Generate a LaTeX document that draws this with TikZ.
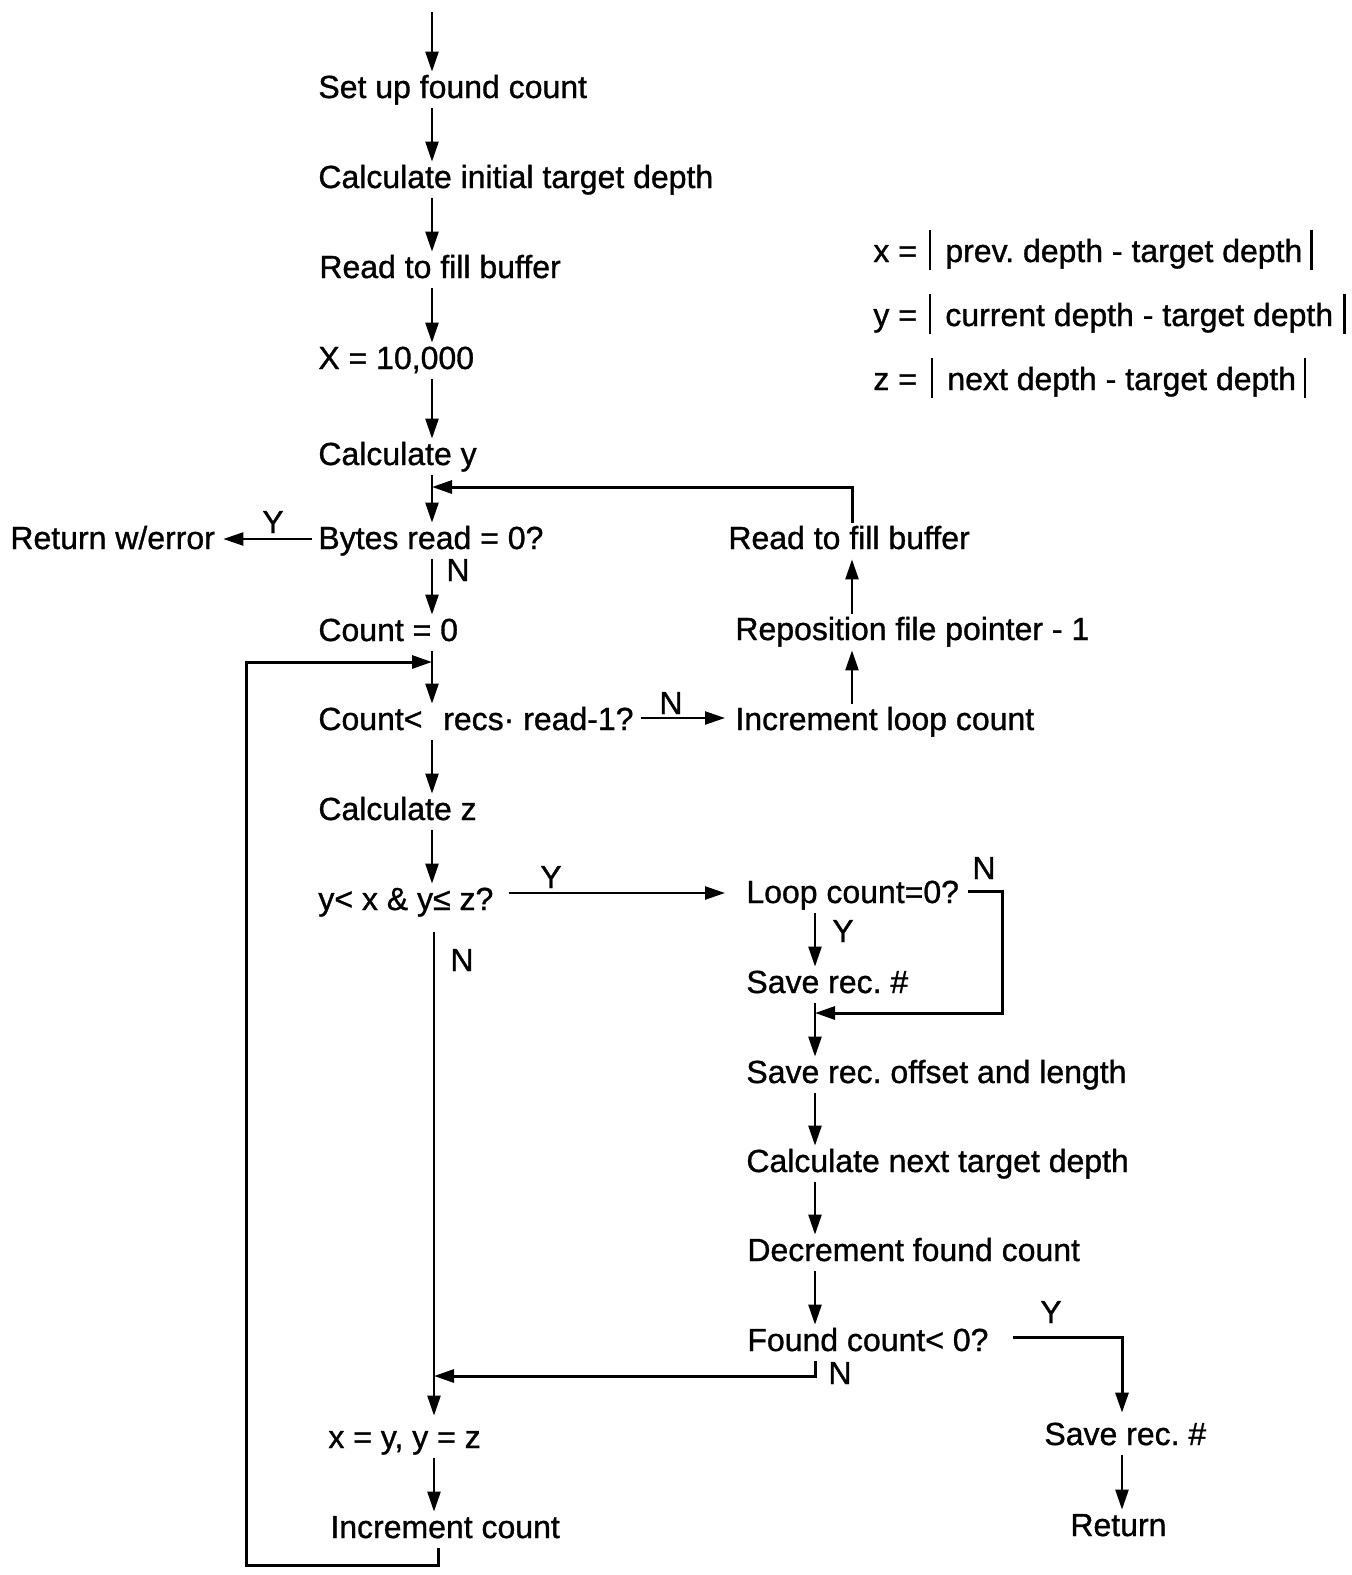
\documentclass[tikz,border=0pt]{standalone}
\usepackage{fontspec}
\setmainfont{Liberation Sans}[FakeBold=1]
\usetikzlibrary{arrows.meta,calc}
% tall absolute-value bar used in the legend
\newcommand{\absbar}{\rule[-4pt]{1.2pt}{20pt}}
\frenchspacing
\begin{document}
\begin{tikzpicture}[x=0.5pt,y=-0.5pt,
  txt/.style={inner xsep=0pt, inner ysep=1.5pt, text height=11.5pt, text depth=3.5pt,
              anchor=base west, font=\fontsize{16}{19}\selectfont},
  lbl/.style={inner sep=0pt, font=\fontsize{16}{19}\selectfont},
  arr/.style={line width=1.2pt, -{Triangle[length=10pt,width=6.5pt]}},
  wire/.style={line width=1.5pt}]
\fill[white] (0,0) rectangle (1351,1575);
\useasboundingbox (0,0) rectangle (1351,1575);

% column positions of the vertical connectors
\coordinate (colL)  at (432,0);
\coordinate (colL2) at (434,0);
\coordinate (colM)  at (852,0);
\coordinate (colR)  at (815,0);
\coordinate (colY)  at (1122,0);

% main column
\coordinate (start) at (432,12);
\node[txt] (setup)    at (318,98)  {Set up found count};
\node[txt] (calcinit) at (318,188) {Calculate initial target depth};
\node[txt] (readfill) at (319,278) {Read to fill buffer};
\node[txt] (xinit)    at (318,369) {X = 10,000};
\node[txt] (calcy)    at (318,465) {Calculate y};
\node[txt] (bytes)    at (318,549) {Bytes read = 0?};
\node[txt] (ret)      at (10,549)  {Return w/error};
\node[txt] (count0)   at (318,641) {Count = 0};
\node[txt] (countlt)  at (318,730) {Count<\hspace{0.65em}recs· read-1?};
\node[txt] (calcz)    at (318,820) {Calculate z};
\node[txt] (cond)     at (318,910) {y< x \& y≤ z?};
\node[txt] (xy)       at (328,1448) {x = y, y = z};
\node[txt] (inccount) at (330,1538) {Increment count};

% re-read branch
\node[txt] (incloop)   at (735,730) {Increment loop count};
\node[txt] (repos)     at (735,640) {Reposition file pointer - 1};
\node[txt] (readfill2) at (728,549) {Read to fill buffer};

% save branch
\node[txt] (loopc)    at (746,903)  {Loop count=0?};
\node[txt] (saverec)  at (746,993)  {Save rec. \#};
\node[txt] (saveoff)  at (746,1083) {Save rec. offset and length};
\node[txt] (calcnext) at (746,1172) {Calculate next target depth};
\node[txt] (decr)     at (747,1261) {Decrement found count};
\node[txt] (foundlt)  at (747,1351) {Found count< 0?};
\node[txt] (saverec2) at (1044,1445) {Save rec. \#};
\node[txt] (ret2)     at (1070,1536) {Return};

% legend
\node[txt] (legx) at (873,262) {x =\hspace{6pt}\absbar\hspace{7pt}prev. depth - target depth\hspace{4pt}\absbar};
\node[txt] (legy) at (873,326) {y =\hspace{6pt}\absbar\hspace{7pt}current depth - target depth\hspace{5pt}\absbar};
\node[txt] (legz) at (873,390) {z =\hspace{7pt}\absbar\hspace{7pt}next depth - target depth\hspace{4pt}\absbar};

% branch labels
\node[lbl] (lY1) at (273,522)  {Y};
\node[lbl] (lN1) at (458,570)  {N};
\node[lbl] (lN2) at (671,703)  {N};
\node[lbl] (lY2) at (551,877)  {Y};
\node[lbl] (lN3) at (984,868)  {N};
\node[lbl] (lY3) at (843,931)  {Y};
\node[lbl] (lN4) at (462,960)  {N};
\node[lbl] (lY4) at (1051,1312) {Y};
\node[lbl] (lN5) at (840,1373) {N};

% junction points
\coordinate (feedIn) at (432,487);
\coordinate (loopIn) at (432,662);
\coordinate (loopB)  at (438,1565);
\coordinate (loopL)  at (246,1565);
\coordinate (loopNE) at (1002,1013);
\coordinate (mergeR) at (815,1013);
\coordinate (mergeN) at (434,1376);

% main column connectors
\draw[arr] (start) -- (setup.north -| colL);
\draw[arr] (setup.south -| colL) -- (calcinit.north -| colL);
\draw[arr] (calcinit.south -| colL) -- (readfill.north -| colL);
\draw[arr] (readfill.south -| colL) -- (xinit.north -| colL);
\draw[arr] (xinit.south -| colL) -- (calcy.north -| colL);
\draw[arr] (calcy.south -| colL) -- (bytes.north -| colL);
\draw[arr] ($(bytes.base west)+(-6,-10)$) -- ($(ret.base east)+(8,-10)$);
\draw[arr] (bytes.south -| colL) -- (count0.north -| colL);
\draw[arr] (count0.south -| colL) -- (countlt.north -| colL);
\draw[arr] ($(countlt.base east)+(7,-12)$) -- ($(incloop.base west)+(-10,-12)$);
\draw[arr] (countlt.south -| colL) -- (calcz.north -| colL);
\draw[arr] (calcz.south -| colL) -- (cond.north -| colL);
\draw[arr] ($(cond.base east)+(15,-17)$) -- ($(loopc.base west |- cond.base)+(-21,-17)$);
\draw[arr] ($(cond.south -| colL2)+(0,12)$) -- ($(xy.north -| colL2)+(0,-6)$);
\draw[arr] (xy.south -| colL2) -- (inccount.north -| colL2);
\draw[arr,wire] (inccount.south -| loopB) -- (loopB) -- (loopL) |- (loopIn);

% re-read branch connectors
\draw[arr] (incloop.north -| colM) -- (repos.south -| colM);
\draw[arr] (repos.north -| colM) -- (readfill2.south -| colM);
\draw[arr,wire] (readfill2.north -| colM) |- (feedIn);

% save branch connectors
\draw[arr] (loopc.south -| colR) -- (saverec.north -| colR);
\draw[arr,wire] ($(loopc.base east)+(9,-12)$) -| (loopNE) -- (mergeR);
\draw[arr] (saverec.south -| colR) -- (saveoff.north -| colR);
\draw[arr] (saveoff.south -| colR) -- (calcnext.north -| colR);
\draw[arr] (calcnext.south -| colR) -- (decr.north -| colR);
\draw[arr] (decr.south -| colR) -- (foundlt.north -| colR);
\draw[arr,wire] (foundlt.south -| colR) |- (mergeN);
\draw[arr,wire] ($(foundlt.base east)+(24,-14)$) -| ($(saverec2.north -| colY)+(0,-6)$);
\draw[arr] (saverec2.south -| colY) -- (ret2.north -| colY);
\end{tikzpicture}
\end{document}
